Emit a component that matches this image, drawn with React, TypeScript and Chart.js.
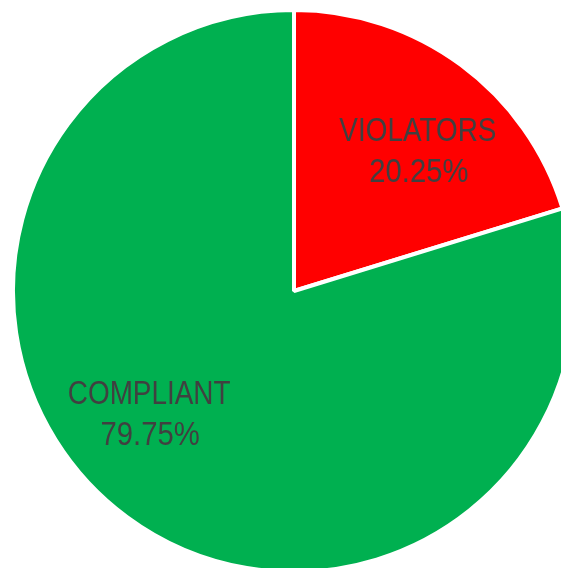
import React, { useEffect, useRef } from "react";
import { Chart, registerables } from "chart.js";

Chart.register(...registerables);

const categories = ["VIOLATORS", "COMPLIANT"];
const shares = [20.25, 79.75];
const sliceColors = ["#FF0000", "#00B050"];

const labelPlugin = {
  id: "sliceLabels",
  afterDatasetsDraw(chart: any) {
    const ctx = chart.ctx;
    const meta = chart.getDatasetMeta(0);
    const offsets = [
      [12, 13],
      [-33, -26],
    ];
    ctx.save();
    ctx.fillStyle = "#404040";
    ctx.font = '34px "Liberation Sans", Arial, sans-serif';
    ctx.textAlign = "center";
    ctx.textBaseline = "alphabetic";
    meta.data.forEach((arc: any, i: number) => {
      const { x, y, startAngle, endAngle, outerRadius } = arc.getProps(
        ["x", "y", "startAngle", "endAngle", "outerRadius"],
        true
      );
      const mid = (startAngle + endAngle) / 2;
      const d = outerRadius * 0.67;
      const cx = x + Math.cos(mid) * d + offsets[i][0];
      const cy = y + Math.sin(mid) * d + offsets[i][1];
      ctx.save();
      ctx.translate(cx, cy - 12);
      ctx.scale(0.82, 1);
      ctx.fillText(categories[i], 0, 0);
      ctx.restore();
      ctx.save();
      ctx.translate(cx + 1, cy + 29);
      ctx.scale(0.86, 1);
      ctx.fillText(shares[i].toFixed(2) + "%", 0, 0);
      ctx.restore();
    });
    ctx.restore();
  },
};

export default function App() {
  const ref = useRef<HTMLCanvasElement>(null);
  useEffect(() => {
    if (!ref.current) return;
    const chart = new Chart(ref.current, {
      type: "pie",
      data: {
        labels: categories,
        datasets: [
          {
            data: shares,
            backgroundColor: sliceColors,
            borderColor: "#FFFFFF",
            borderWidth: 4,
          },
        ],
      },
      options: {
        responsive: false,
        animation: false,
        devicePixelRatio: 1,
        layout: { padding: 0 },
        plugins: {
          legend: { display: false },
          tooltip: { enabled: false },
        },
      },
      plugins: [labelPlugin],
    });
    return () => chart.destroy();
  }, []);
  return (
    <div
      style={{
        position: "fixed",
        left: 0,
        top: 0,
        width: 561,
        height: 568,
        overflow: "hidden",
        background: "#FFFFFF",
      }}
    >
      <canvas
        ref={ref}
        width={566}
        height={566}
        style={{ position: "absolute", left: 11, top: 8, width: 566, height: 566 }}
      />
    </div>
  );
}
